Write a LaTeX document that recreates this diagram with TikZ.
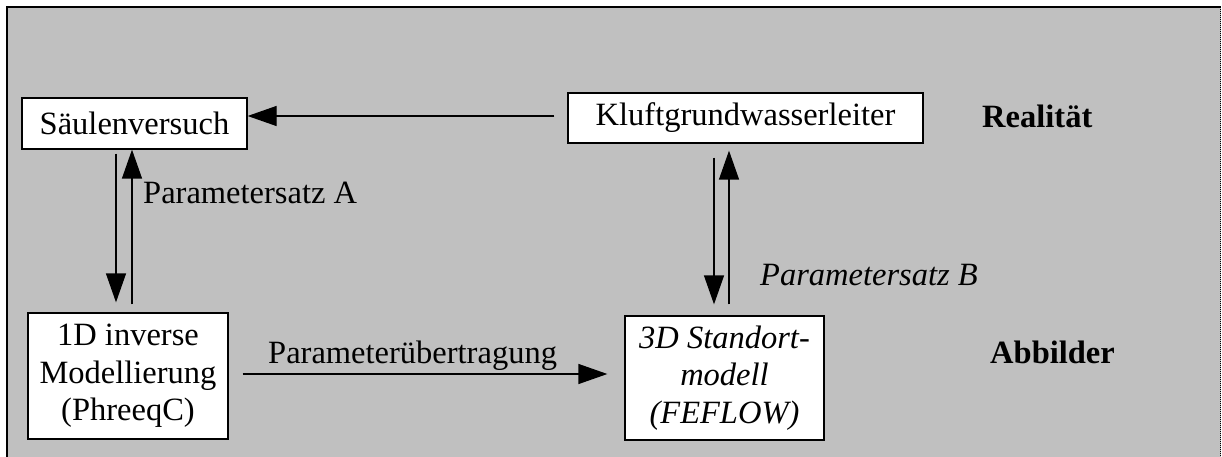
\documentclass[tikz,border=0pt]{standalone}
\usepackage{fontspec}
\setmainfont{Liberation Serif}
\usetikzlibrary{arrows.meta}
\begin{document}
\begin{tikzpicture}[x=1pt,y=-1pt,
  box/.style={draw=black, fill=white, line width=1.3pt, inner sep=0pt, align=center},
  arr/.style={line width=1.3pt, -{Triangle[length=29pt,width=20pt]}},
  lbl/.style={inner sep=0pt, anchor=base west},
  font=\fontsize{32.5}{37.4}\selectfont]
\useasboundingbox (0,0) rectangle (1222,457);
\fill[fill={rgb,255:red,192;green,192;blue,192}] (7,7) rectangle (1221,460);
\draw[line width=2pt, line cap=rect] (7,460) -- (7,7) -- (1220,7);
\draw[line width=1pt, dash pattern=on 1pt off 1pt] (1220.5,7) -- (1220.5,457);

\node[box, minimum width=225pt, minimum height=51pt] (saeulen) at (134.5,123.5) {Säulenversuch};
\node[box, minimum width=355pt, minimum height=50pt] (kluft) at (745.5,118) {Kluftgrundwasserleiter};
\node[box, minimum width=200pt, minimum height=126pt] (m1d) at (128,376) {1D inverse\\Modellierung\\(PhreeqC)};
\node[box, minimum width=199pt, minimum height=124pt, font=\fontsize{32.5}{37.4}\selectfont\itshape] (m3d) at (724.5,378) {3D Standort-\\modell\\(FEFLOW)};

\node[lbl] (pa) at (143,203) {Parametersatz A};
\node[lbl, font=\fontsize{32.5}{37.4}\selectfont\itshape] (pb) at (760,285) {Parametersatz B};
\node[lbl] (pu) at (268,363) {Parameterübertragung};
\node[lbl, font=\fontsize{32.5}{37.4}\selectfont\bfseries] (real) at (982,128) {Realität};
\node[lbl, font=\fontsize{32.5}{37.4}\selectfont\bfseries] (abb) at (990,363) {Abbilder};

% horizontal top arrow
\draw[arr] ([xshift=-13pt,yshift=2pt]kluft.west) -- ([yshift=7.5pt]saeulen.east);
% left pair
\draw[arr] ([xshift=-18.5pt,yshift=-4pt]saeulen.south) -- ([xshift=-12pt,yshift=10pt]m1d.north);
\draw[arr] ([xshift=4pt,yshift=8pt]m1d.north) -- ([xshift=-2.5pt]saeulen.south);
% right pair
\draw[arr] ([xshift=-31.5pt,yshift=-14pt]kluft.south) -- ([xshift=-10.5pt,yshift=11pt]m3d.north);
\draw[arr] ([xshift=4.5pt,yshift=11pt]m3d.north) -- ([xshift=-16.5pt,yshift=-7pt]kluft.south);
% bottom arrow
\draw[arr] ([xshift=14pt,yshift=2pt]m1d.east) -- ([xshift=-17pt,yshift=4pt]m3d.west);
\end{tikzpicture}
\end{document}
